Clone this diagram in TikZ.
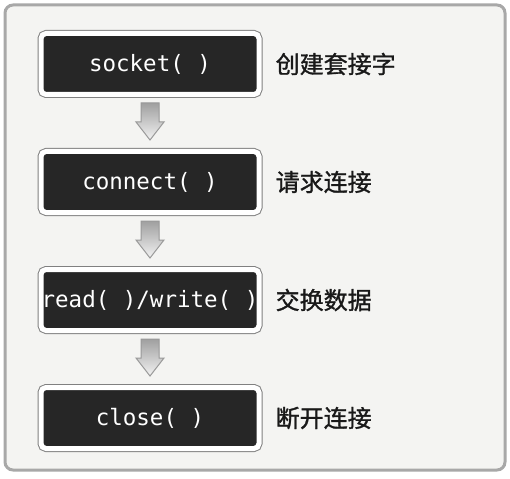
\documentclass[tikz,border=0pt]{standalone}
\usepackage{fontspec}
\setmonofont{DejaVu Sans Mono}
\newfontfamily\cjk[FakeBold=1.2]{Noto Sans CJK SC}
\usetikzlibrary{positioning,calc}

\definecolor{boxdark}{HTML}{262626}
\definecolor{framegray}{HTML}{A8A8A8}
\definecolor{panelbg}{HTML}{F4F4F2}

\tikzset{
  callbox/.style={rectangle, rounded corners=5pt, fill=boxdark, draw=white,
    line width=5pt, preaction={draw=gray, line width=7pt},
    minimum width=218pt, minimum height=61pt, inner sep=0pt, outer sep=0pt,
    text=white, font=\ttfamily\fontsize{22.5}{24}\selectfont},
  steplabel/.style={anchor=west, inner sep=0pt, text=black!90,
    font=\cjk\fontsize{24}{28}\selectfont},
  flowarrow/.style={draw=gray!80, line width=1pt, top color=gray!75,
    bottom color=gray!10, line join=miter}
}

\begin{document}
\begin{tikzpicture}[x=1pt, y=-1pt, node distance=57pt]
  \useasboundingbox (0,0) rectangle (510,478);

  % frame
  \draw[framegray, line width=3pt, fill=panelbg, rounded corners=8pt] (5,5) rectangle (505,470);

  % calls
  \node[callbox] (socket) at (150,64) {socket( )};
  \node[callbox, below=of socket] (connect) {connect( )};
  \node[callbox, below=of connect] (readwrite) {read( )/write( )};
  \node[callbox, below=of readwrite] (close) {close( )};

  % labels
  \node[steplabel, right=16.5pt of socket.east] (socketlabel) {创建套接字};
  \node[steplabel, right=16.5pt of connect.east] (connectlabel) {请求连接};
  \node[steplabel, right=16.5pt of readwrite.east] (readwritelabel) {交换数据};
  \node[steplabel, right=16.5pt of close.east] (closelabel) {断开连接};

  % arrows
  \foreach \From/\To in {socket/connect, connect/readwrite, readwrite/close}{
    \draw[flowarrow] ($(\From.south)+(-9,8.5)$) -- ($(\From.south)+(9,8.5)$)
      -- ($(\To.north)+(9,-29.5)$) -- ($(\To.north)+(14,-29.5)$)
      -- ($(\To.north)+(0,-11.5)$) -- ($(\To.north)+(-14,-29.5)$)
      -- ($(\To.north)+(-9,-29.5)$) -- cycle;
  }
\end{tikzpicture}
\end{document}
